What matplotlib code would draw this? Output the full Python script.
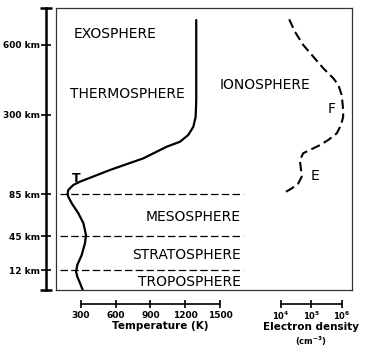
import numpy as np
import matplotlib
matplotlib.use("Agg")
import matplotlib.pyplot as plt

W, H = 370, 353

# altitude (km) -> vertical position inside the frame (px from bottom)
alt_levels = [0, 12, 45, 85, 300, 600, 760]
alt_pos = [0, 20, 54, 96, 175, 245, 282]
alt_ticks = [12, 45, 85, 300, 600]
alt_labels = ["12 km", "45 km", "85 km", "300 km", "600 km"]

# temperature profile: temperature (K), altitude (km)
temp_K = [315, 291, 268, 257, 268, 306, 334, 343, 320, 277, 220, 190, 184,
          190, 233, 291, 550, 838, 1040, 1155, 1226, 1270, 1290, 1295, 1295, 1295]
temp_alt = [0, 4.2, 8, 11, 16.9, 26.6, 37.9, 46, 57.4, 66.6, 76.1, 82.4, 86,
            95.9, 109.5, 118.5, 150.3, 182, 213.7, 227.3, 245.6, 268, 295.4, 364, 500, 708]

# electron density: log10(cm^-3), altitude (km)
ne_log = [4.27, 4.46, 4.73, 5.06, 5.39, 5.72, 5.88, 5.99, 6.02, 6.04, 6.04, 5.97,
          5.83, 5.55, 5.28, 4.95, 4.73, 4.62, 4.66, 4.68, 4.57, 4.35, 4.10]
ne_alt = [711, 657, 600, 550, 500, 457, 429, 386, 350, 320, 295, 273,
          250, 232, 218, 205, 196, 177, 150, 132, 114, 100, 88]
ne = [10 ** v for v in ne_log]

layer_bounds = [12, 45, 85]
temp_ticks = [300, 600, 900, 1200, 1500]
ne_ticks = [1e4, 1e5, 1e6]
ne_tick_labels = [r"$\mathbf{10^{4}}$", r"$\mathbf{10^{5}}$", r"$\mathbf{10^{6}}$"]

T_LIM = (84, 2640)
NE_LIM = (10 ** -3.38, 10 ** 6.33)


def fwd(a):
    return np.interp(a, alt_levels, alt_pos)


def inv(p):
    return np.interp(p, alt_pos, alt_levels)


def rect(x0, ytop, w, h):
    return [x0 / W, (H - ytop - h) / H, w / W, h / H]


def alt_scale(a):
    a.set_yscale("function", functions=(fwd, inv))
    a.set_ylim(0, 760)


fig = plt.figure(figsize=(W / 100, H / 100), dpi=100)

# main frame
ax = fig.add_axes(rect(56, 8, 296, 282))
alt_scale(ax)
ax.set_xlim(*T_LIM)
ax.tick_params(left=False, bottom=False, labelleft=False, labelbottom=False)
for s in ax.spines.values():
    s.set_linewidth(0.9)
    s.set_color("#333333")

ax.plot(temp_K, temp_alt, color="black", lw=1.6, solid_joinstyle="round",
        solid_capstyle="round")
for b in layer_bounds:
    ax.plot([119, 1698], [b, b], color="black", lw=0.9, dashes=(6, 2.6))

# electron density on a log axis over the same frame
ax2 = fig.add_axes(rect(56, 8, 296, 282))
ax2.set_xscale("log")
ax2.set_xlim(*NE_LIM)
alt_scale(ax2)
ax2.axis("off")
ax2.plot(ne, ne_alt, color="black", lw=1.5, dashes=(4.5, 2.2))

# text inside the frame
tk = dict(fontsize=10, color="black", va="center")
fig.text(115 / W, 1 - 34 / H, "EXOSPHERE", ha="center", **tk)
fig.text(127 / W, 1 - 94 / H, "THERMOSPHERE", ha="center", **tk)
fig.text(265 / W, 1 - 85 / H, "IONOSPHERE", ha="center", **tk)
fig.text(332 / W, 1 - 109 / H, "F", ha="center", **tk)
fig.text(315 / W, 1 - 176 / H, "E", ha="center", **tk)
fig.text(241 / W, 1 - 217 / H, "MESOSPHERE", ha="right", **tk)
fig.text(241 / W, 1 - 255 / H, "STRATOSPHERE", ha="right", **tk)
fig.text(241 / W, 1 - 282 / H, "TROPOSPHERE", ha="right", **tk)
fig.text(76 / W, 1 - 179 / H, "T", ha="center", va="center", fontsize=9, fontweight="bold")

# altitude axis
axa = fig.add_axes(rect(46, 8, 0.01, 282))
alt_scale(axa)
axa.set_xticks([])
for k in ["top", "bottom", "right"]:
    axa.spines[k].set_visible(False)
axa.spines["left"].set_linewidth(1.8)
axa.set_yticks(alt_ticks, alt_labels)
axa.set_yticks([0, 760], minor=True)
axa.tick_params(axis="y", which="major", direction="inout", length=7, width=1.2,
                labelsize=6.5, pad=1)
axa.tick_params(axis="y", which="minor", direction="inout", length=9, width=1.8)
for t in axa.get_yticklabels():
    t.set_fontweight("bold")

# temperature axis
axt = fig.add_axes(rect(56, 304, 296, 0.01))
axt.set_xlim(*T_LIM)
axt.set_yticks([])
for k in ["top", "left", "right"]:
    axt.spines[k].set_visible(False)
axt.spines["bottom"].set_bounds(300, 1500)
axt.spines["bottom"].set_linewidth(1.2)
axt.set_xticks(temp_ticks, [str(v) for v in temp_ticks])
axt.tick_params(axis="x", direction="inout", length=6, width=1.2, labelsize=6.5, pad=2)
for t in axt.get_xticklabels():
    t.set_fontweight("bold")
fig.text(160 / W, 1 - 326 / H, "Temperature (K)", ha="center", va="center",
         fontsize=7.5, fontweight="bold")

# electron density axis
axe = fig.add_axes(rect(56, 304, 296, 0.01))
axe.set_xscale("log")
axe.set_xlim(*NE_LIM)
axe.set_yticks([])
for k in ["top", "left", "right"]:
    axe.spines[k].set_visible(False)
axe.spines["bottom"].set_bounds(1e4, 1e6)
axe.spines["bottom"].set_linewidth(1.2)
axe.set_xticks(ne_ticks, ne_tick_labels)
axe.xaxis.set_minor_locator(matplotlib.ticker.NullLocator())
axe.tick_params(axis="x", direction="inout", length=6, width=1.2, labelsize=6, pad=1)
fig.text(311 / W, 1 - 327.5 / H, "Electron density", ha="center", va="center",
         fontsize=7.5, fontweight="bold")
fig.text(311 / W, 1 - 341 / H, r"(cm$^{\mathbf{-3}}$)", ha="center", va="center",
         fontsize=6, fontweight="bold")

fig.savefig("out.png", dpi=100)
